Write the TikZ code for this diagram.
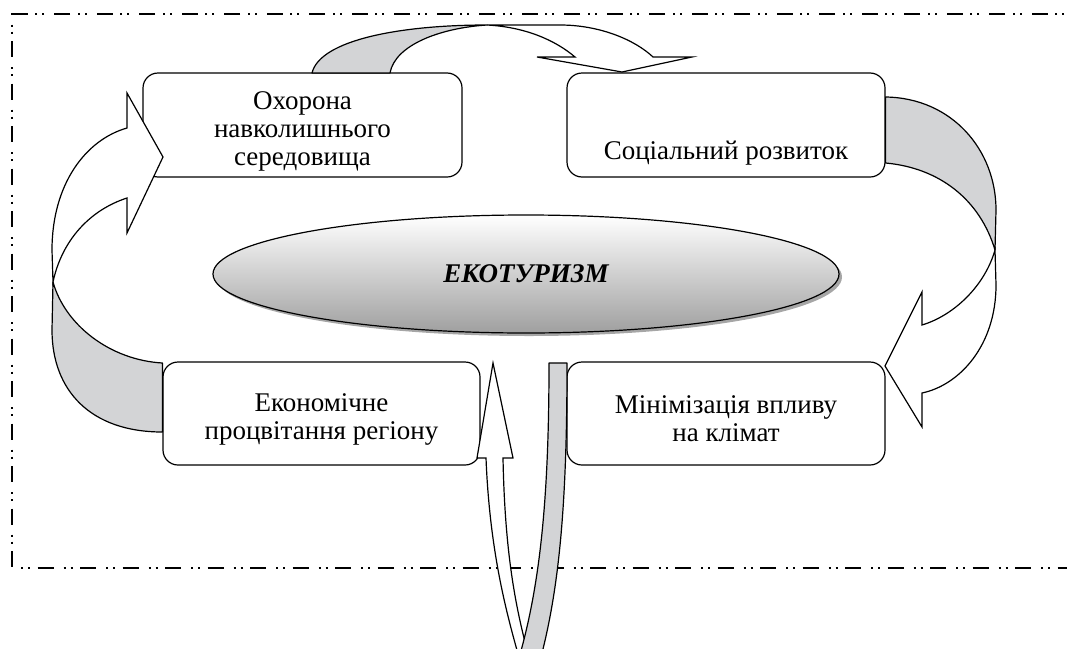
\documentclass[tikz,border=0pt]{standalone}
\usepackage{fontspec}
\setmainfont{Liberation Serif}
\usetikzlibrary{calc,shapes.geometric,shadows}
\definecolor{bandgray}{RGB}{211,212,214}
\begin{document}
\begin{tikzpicture}[x=1pt,y=-1pt,
  framest/.style={line width=1.7pt, dash pattern=on 16pt off 10pt on 2pt off 5pt on 2pt off 7.5pt},
  boxst/.style={draw, line width=1.2pt, rounded corners=15pt, minimum width=#1, minimum height=104pt, inner sep=0pt, fill=white},
  txt/.style={align=center, inner sep=0pt, font=\fontsize{27}{28}\selectfont},
  grayband/.style={draw, fill=bandgray, line width=1.2pt, line join=round},
  whiteband/.style={draw, fill=white, line width=1.2pt, line join=miter}
]
\useasboundingbox (0,0) rectangle (1067,648);
\clip (0,0) rectangle (1067,648);

% frame
\draw[framest] (1090,14) -- (12,14) -- (12,568) -- (1090,568);

% boxes
\node[boxst=319pt] (b1) at (302.5,125) {};
\node[boxst=318pt] (b2) at (726,125) {};
\node[boxst=317pt, minimum height=103pt] (b3) at (321.5,413.5) {};
\node[boxst=318pt, minimum height=103pt] (b4) at (726,413.5) {};

% central ellipse
\node[ellipse, draw, line width=1.2pt, minimum width=626pt, minimum height=118pt,
      top color=white, bottom color=gray!75,
      drop shadow={shadow xshift=3pt, shadow yshift=-3pt, fill=gray!70, opacity=1},
      font=\fontsize{27}{28}\selectfont\bfseries\itshape] (eco) at (526,274) {ЕКОТУРИЗМ};

% top arrow: b1 -> b2
\coordinate (xt) at (487,25);
\draw[grayband] (312,73) .. controls (320,40) and (400,25) .. (xt)
   .. controls (440,28) and (395,45) .. (390,73) -- cycle;
\draw[whiteband] (xt) -- (560,25) .. controls (600,25) and (635,40) .. (653,57)
   -- (692,57) -- (622,72) -- (537,57) -- (575,57)
   .. controls (555,40) and (525,27) .. (xt) -- cycle;

% right arrow: b2 -> b4
\coordinate (xr) at (995,250);
\draw[grayband] (b2.east |- 0,97) .. controls (952,98) and (996,150) .. (996,210) -- (xr)
   .. controls (980,200) and (940,168) .. (b2.east |- 0,163) -- cycle;
\draw[whiteband] (xr) -- (996,285) .. controls (996,345) and (960,385) .. (922,393)
   -- (922,427) -- (885,366) -- (922,292) -- (922,325)
   .. controls (955,315) and (985,285) .. (xr) -- cycle;

% left arrow: b3 -> b1
\coordinate (xl) at (53,282);
\draw[grayband] (b3.west |- 0,432) .. controls (90,432) and (52,390) .. (52,330) -- (xl)
   .. controls (65,325) and (110,360) .. (b3.west |- 0,363) -- cycle;
\draw[whiteband] (xl) -- (52,250) .. controls (52,185) and (85,140) .. (127,128)
   -- (127,93) -- (163,157) -- (127,233) -- (127,198)
   .. controls (90,210) and (62,240) .. (xl) -- cycle;

% bottom arrow: b4 -> b3 (U-turn)
\draw[whiteband] (486,458) .. controls (490,560) and (510,625) .. (522,668)
   -- (532,668) .. controls (517,615) and (505,560) .. (503,458)
   -- (513,458) -- (493,363) -- (477,458) -- cycle;
\draw[grayband] (549,363) .. controls (549,500) and (540,590) .. (516,668)
   -- (538,668) .. controls (560,590) and (567,500) .. (567,363) -- cycle;

% texts
\node[txt] (t1) at ($(b1.center)+(0,6)$) {Охорона\\навколишнього\\середовища};
\node[txt] (t2) at ($(b2.center)+(0,28)$) {Соціальний розвиток};
\node[txt] (t3) at ($(b3.center)+(0,5.5)$) {Економічне\\процвітання регіону};
\node[txt] (t4) at ($(b4.center)+(0,5.5)$) {Мінімізація впливу\\на клімат};
\end{tikzpicture}
\end{document}
